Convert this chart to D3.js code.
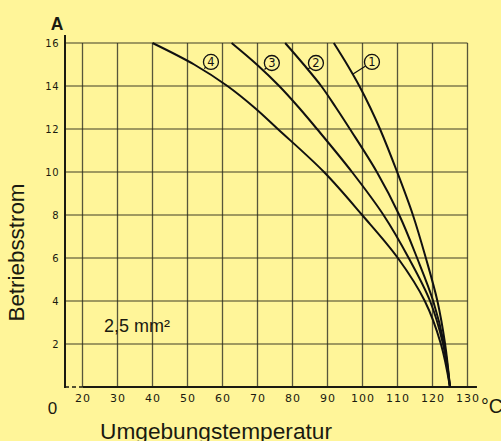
<!DOCTYPE html>
<html>
<head>
<meta charset="utf-8">
<script src="https://cdn.jsdelivr.net/npm/d3@7"></script>
<style>
  html, body { margin: 0; padding: 0; background: #fff599; }
  svg { display: block; }
</style>
</head>
<body>
<svg id="chart" width="501" height="441"></svg>
<script>
// ---- data ----
const currents = [16, 15, 14, 13, 12, 10, 8, 6, 4, 2, 0];
const curve1 = [91.8, 95.6, 99.1, 102.2, 105, 109.9, 114.4, 118.1, 121.4, 123.6, 125];
const curve2 = [77.9, 83.2, 88.2, 92.4, 96.4, 104.1, 110.5, 115.6, 120.2, 123.3, 125];
const curve3 = [62.6, 69.8, 76.2, 81.8, 87, 97, 106, 113.2, 119.3, 123, 125];
const curve4 = [40, 51.9, 61.4, 69.1, 75.8, 89, 99.9, 110.1, 117.8, 122.4, 125];
const curveNames = ["1", "2", "3", "4"];
const labelT = [102.7, 86.7, 74.1, 56.7];
const labelI = [15.12, 15.07, 15.07, 15.12];
const anchorT = [97.3, 84.3, 72.0, 54.8];
const anchorI = [14.56, 14.77, 14.77, 14.81];
const xTicks = [20, 30, 40, 50, 60, 70, 80, 90, 100, 110, 120, 130];
const yTicks = [2, 4, 6, 8, 10, 12, 14, 16];
const yTitle = "Betriebsstrom";
const xTitle = "Umgebungstemperatur";
const yUnit = "A";
const xUnit = "°C";
const origin = "0";
const note = "2,5 mm²";

// ---- drawing ----
const svg = d3.select("#chart");
const x = d3.scaleLinear().domain([20, 130]).range([82.5, 467.5]);
const y = d3.scaleLinear().domain([0, 16]).range([387, 43]);
const xLeft = x(15);   // left axis position
const ink = "#1a1a10";
const bg = "#fff599";

svg.append("rect").attr("width", 501).attr("height", 441).attr("fill", bg);

const grid = svg.append("g");
grid.selectAll("line.v").data(xTicks).join("line")
  .attr("x1", d => x(d)).attr("x2", d => x(d))
  .attr("y1", y(16)).attr("y2", y(0))
  .attr("stroke", "#3a3a2a").attr("stroke-width", 1.3).attr("stroke-opacity", 0.85);
grid.selectAll("line.h").data(yTicks).join("line")
  .attr("x1", xLeft).attr("x2", x(130))
  .attr("y1", d => y(d)).attr("y2", d => y(d))
  .attr("stroke", "#2a2a1a").attr("stroke-width", 1.2).attr("stroke-opacity", 0.9);

// axis lines
svg.append("line").attr("x1", xLeft).attr("x2", xLeft)
  .attr("y1", y(16) - 8).attr("y2", y(0) + 1)
  .attr("stroke", ink).attr("stroke-width", 2);
svg.append("line").attr("x1", x(20)).attr("x2", x(132.7))
  .attr("y1", y(0)).attr("y2", y(0))
  .attr("stroke", ink).attr("stroke-width", 2);
svg.append("line").attr("x1", xLeft).attr("x2", x(20))
  .attr("y1", y(0)).attr("y2", y(0))
  .attr("stroke", ink).attr("stroke-width", 1.5).attr("stroke-dasharray", "4,3");

// tick labels via axes
const tickFont = "'DejaVu Sans', sans-serif";
const ax = svg.append("g").attr("transform", `translate(0,${y(0)})`)
  .call(d3.axisBottom(x).tickValues(xTicks).tickSize(0).tickPadding(7).tickFormat(d3.format("d")));
ax.select(".domain").remove();
ax.selectAll("text").attr("font-family", tickFont).attr("font-size", 11)
  .attr("letter-spacing", 1).attr("fill", ink);

const ay = svg.append("g").attr("transform", `translate(${xLeft},0)`)
  .call(d3.axisLeft(y).tickValues(yTicks).tickSize(0).tickPadding(6).tickFormat(d3.format("d")));
ay.select(".domain").remove();
ay.selectAll("text").attr("font-family", tickFont).attr("font-size", 10)
  .attr("letter-spacing", 0.5).attr("fill", ink);

// curves
const series = [curve1, curve2, curve3, curve4];
const line = d3.line()
  .x(d => x(d[0])).y(d => y(d[1]))
  .curve(d3.curveCatmullRom.alpha(0.5));
svg.append("g").selectAll("path").data(series).join("path")
  .attr("d", s => line(s.map((t, i) => [t, currents[i]])))
  .attr("fill", "none").attr("stroke", "#111").attr("stroke-width", 2);

// circled labels
const labels = curveNames.map((n, i) => ({ n, t: labelT[i], c: labelI[i], at: anchorT[i], ai: anchorI[i] }));
const r = 7.5;
const lg = svg.append("g").selectAll("g").data(labels).join("g");
function edge(d) {
  const dx = x(d.at) - x(d.t), dy = y(d.ai) - y(d.c), L = Math.hypot(dx, dy);
  return [x(d.t) + dx / L * r, y(d.c) + dy / L * r];
}
lg.append("line")
  .attr("x1", d => x(d.at)).attr("y1", d => y(d.ai))
  .attr("x2", d => edge(d)[0]).attr("y2", d => edge(d)[1])
  .attr("stroke", "#111").attr("stroke-width", 1.2);
lg.append("circle").attr("cx", d => x(d.t)).attr("cy", d => y(d.c)).attr("r", r)
  .attr("fill", bg).attr("stroke", "#111").attr("stroke-width", 1.3);
lg.append("text").attr("x", d => x(d.t)).attr("y", d => y(d.c) + 4.2)
  .attr("text-anchor", "middle").attr("font-family", tickFont).attr("font-size", 11.5)
  .attr("fill", "#111").text(d => d.n);

// texts
const sans = "'Liberation Sans', Arial, sans-serif";
svg.append("text").attr("x", 57).attr("y", 29.5).attr("text-anchor", "middle")
  .attr("font-family", sans).attr("font-weight", "bold").attr("font-size", 17.5)
  .attr("fill", ink).text(yUnit);
svg.append("text").attr("x", 52.5).attr("y", 414).attr("text-anchor", "middle")
  .attr("font-family", sans).attr("font-size", 17).attr("fill", ink).text(origin);
svg.append("text").attr("x", 481).attr("y", 413)
  .attr("font-family", sans).attr("font-size", 19.5).attr("fill", ink).text(xUnit);
svg.append("text").attr("x", 100).attr("y", 438.5)
  .attr("font-family", sans).attr("font-size", 22).attr("fill", ink)
  .attr("textLength", 232).attr("lengthAdjust", "spacingAndGlyphs").text(xTitle);
svg.append("text").attr("transform", "translate(23.5,252.5) rotate(-90)")
  .attr("text-anchor", "middle")
  .attr("font-family", sans).attr("font-size", 22).attr("fill", ink)
  .attr("textLength", 138).attr("lengthAdjust", "spacingAndGlyphs").text(yTitle);
svg.append("text").attr("x", 104).attr("y", 332.3)
  .attr("font-family", sans).attr("font-size", 18).attr("fill", ink).text(note);
</script>
</body>
</html>
